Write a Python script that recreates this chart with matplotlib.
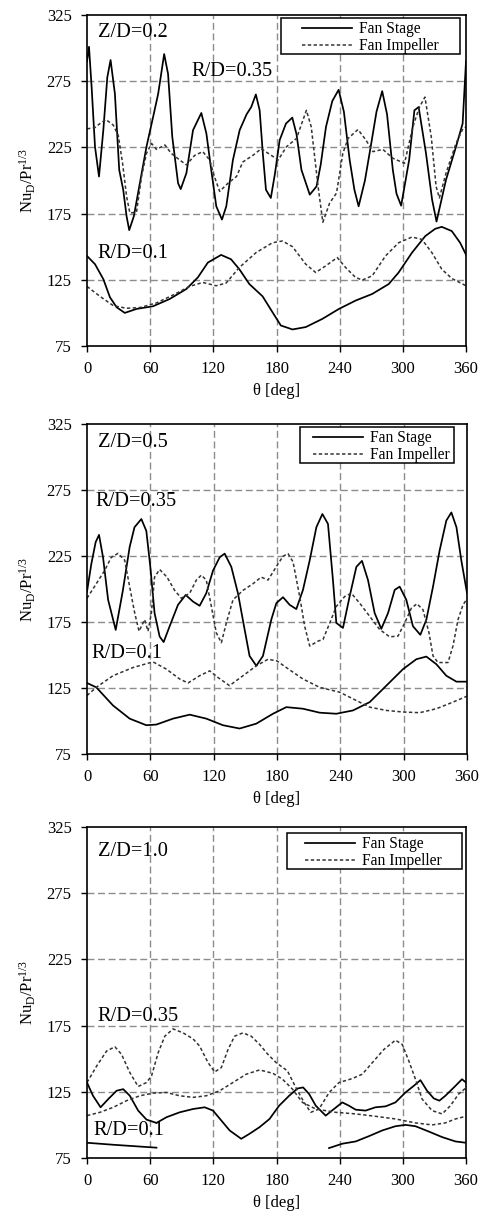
import numpy as np
import matplotlib
matplotlib.use("Agg")
import matplotlib.pyplot as plt
from matplotlib.patches import Rectangle

plt.rcParams['font.family'] = ['Liberation Serif', 'DejaVu Serif']
plt.rcParams['mathtext.fontset'] = 'custom'
plt.rcParams['mathtext.rm'] = 'Liberation Serif'
plt.rcParams['mathtext.it'] = 'Liberation Serif:italic'

# ---------------- data ----------------
x_ticks = [0, 60, 120, 180, 240, 300, 360]
y_ticks = [75, 125, 175, 225, 275, 325]
series_labels = ["Fan Stage", "Fan Impeller"]
panel_titles = ["Z/D=0.2", "Z/D=0.5", "Z/D=1.0"]
radius_labels = ["R/D=0.35", "R/D=0.1"]

# Panel 1: Z/D = 0.2
p1_stage35_ang = [0, 1.9, 4.4, 7.6, 11.4, 15.5, 19.3, 22.4, 26.5, 30.6, 34.4, 37.6, 40.1, 44.5, 50.2, 56.5,
                  62.8, 67.6, 73.3, 77, 81, 86.5, 89, 94.4, 100.7, 108.6, 113.4, 118, 122.8, 128.2, 132.3,
                  138.6, 145, 151.6, 156, 160.4, 164, 167, 170, 174.6, 178.5, 183, 189, 195, 199, 203.7,
                  211.6, 218, 222, 227, 233, 239, 244, 249.5, 254, 258, 264, 270, 275, 280.4, 285, 290.5,
                  294, 298.4, 306, 311, 315, 322, 327.8, 332, 341, 350.5, 356.8, 360]
p1_stage35_val = [290, 301, 270.5, 225.5, 203, 238, 278, 291, 265.5, 208, 193, 173, 162.5, 173, 198, 225.5,
                  248, 265.5, 295.5, 280.5, 233, 198, 193.5, 205.5, 238, 251, 235.5, 208, 180.5, 170.5, 180.5,
                  215.5, 238, 250, 255.5, 265, 253, 220.5, 193, 186.8, 205, 230.5, 243, 247.5, 235, 208,
                  189.3, 195.5, 212, 240.5, 260, 268.5, 252, 215.5, 193, 180.5, 200, 228, 252, 267.5, 250, 208,
                  190, 181, 215.5, 253, 255.5, 220.5, 185.5, 169, 200.5, 225.5, 243, 290]

p1_imp35_ang = [0, 7.6, 12.3, 18, 25, 29.7, 33.8, 37.6, 40.7, 47, 51.8, 56.5, 61.3, 66, 74, 80, 88, 94.4,
                102.3, 110, 116.5, 121, 126, 134, 142, 148, 157.6, 165.5, 175, 181.6, 189.5, 199, 208.4,
                213, 219.5, 224, 230.5, 237, 243, 248, 257.4, 265, 271.6, 281, 290.5, 301.6, 309.5, 315.8,
                321, 327, 331.6, 334.7, 341, 350.5, 357, 360]
p1_imp35_val = [239, 240, 243, 246, 241.8, 234, 213, 188, 175.5, 176, 203, 220.5, 228, 223.5, 226.8, 220.5,
                215.5, 211.8, 219, 221.8, 215.5, 203, 191.8, 198, 203, 214, 219, 224, 219, 215.5, 225.5,
                231.8, 253, 240.5, 195.5, 168.5, 183, 190.5, 220.5, 231.8, 238.5, 230.5, 221.8, 223.5,
                216.8, 213, 240.5, 255.5, 263, 233, 195.5, 186.8, 205.5, 228, 239, 240.5]

p1_stage10_ang = [0, 7.6, 15.5, 21.8, 28.1, 35.9, 47, 62.7, 78.5, 94.3, 105.3, 114.8, 127.4, 136.8, 144.7,
                  154.2, 166.8, 176.2, 184.1, 195.2, 207.8, 223.6, 239.3, 255.1, 270.9, 286.6, 296, 308.7,
                  321.3, 330.7, 337, 346.5, 354.4, 360]
p1_stage10_val = [143, 136.8, 125.5, 111.8, 104.3, 100, 103, 105, 110.5, 118, 126.8, 138, 143.8, 140.5, 133,
                  121.8, 112.5, 100.5, 90.5, 87.5, 89.3, 95.5, 103, 109.3, 114.3, 121.8, 130.5, 145.5, 158,
                  163.5, 165, 161.8, 153, 144]

p1_imp10_ang = [0, 12.3, 24.9, 37.5, 50.1, 65.9, 81.7, 97.4, 110, 122.6, 132.1, 144.7, 160.5, 176.2, 185.7,
                195.2, 207.8, 217.2, 226.7, 237.7, 245.6, 255.1, 261.4, 270.9, 283.5, 296, 308.7, 318.1,
                327.6, 337, 346.5, 360]
p1_imp10_val = [120, 112.5, 105.5, 103.5, 104, 107.5, 113.5, 120, 123, 120.5, 122.5, 134.3, 145.5, 153, 154.3,
                150, 136.8, 130.5, 135.5, 141.8, 134.3, 126.8, 124.8, 128, 143, 153, 157.3, 155.5, 145.5,
                133, 126, 120.5]

# Panel 2: Z/D = 0.5
p2_stage35_ang = [0, 4.1, 8.2, 11.4, 15.2, 20, 27.2, 34, 40.4, 45, 51.5, 56.2, 60, 64, 68.8, 72.6, 78.3,
                  86.2, 93.5, 100.4, 106.7, 113, 119.4, 125.7, 130.4, 136.7, 143, 149.4, 154, 160.4, 166.7,
                  174.6, 179.4, 185.7, 192, 198.3, 204.6, 211, 217.3, 223, 228.3, 233, 236.2, 242.5, 248.8,
                  255.2, 260.5, 266.2, 272.5, 278.8, 285.2, 291.5, 296.2, 302.5, 308.8, 315.8, 321.5, 327.8,
                  334.1, 340.4, 345.2, 350, 354.6, 360]
p2_stage35_val = [198, 219, 235.5, 241, 224, 191.8, 169, 199, 231.8, 246.8, 253, 244, 216.8, 181.8, 164,
                  159.8, 171.8, 188, 195.5, 190.5, 187.3, 196.8, 214, 224, 226.8, 216.8, 196.8, 169, 149.3,
                  141.8, 149.3, 176.8, 189.3, 193.8, 188, 184.8, 199.3, 221.8, 246.8, 256.8, 249.3, 206.8,
                  174.3, 170.5, 194.3, 216.8, 221.3, 206.8, 181.8, 169.8, 181.8, 199.3, 201.8, 191.8, 171.8,
                  165.3, 176.8, 201.8, 229.3, 251.8, 258, 246.8, 221.8, 197]

p2_imp35_ang = [0, 8.8, 16.7, 23, 29.4, 35.7, 40.4, 45.2, 49.3, 54.6, 57.8, 61, 64, 68.8, 75.8, 83, 89.4,
                97.3, 103.6, 108.3, 113, 117.8, 122.5, 127.3, 132, 138.3, 147.8, 157.3, 165, 171.5, 181,
                185.7, 190.4, 195.2, 201.5, 206.2, 211, 218.8, 223.6, 230, 236.2, 244.1, 250.4, 258.3, 267.8,
                277.3, 286.7, 294.6, 301, 307.3, 312.6, 318.3, 324, 327.8, 332.5, 342, 346.7, 351.5, 356.2, 360]
p2_imp35_val = [193, 204, 214, 224, 227, 221.8, 201.8, 181.8, 168, 176.8, 168, 181.8, 209, 214.8, 209, 199,
                193, 196.8, 206.8, 210.5, 206.8, 186.8, 166.8, 159.3, 174.3, 191.8, 199, 204, 209, 206.8,
                219, 224.8, 226.8, 220.5, 194.3, 171.8, 156.8, 160.5, 161.8, 174.3, 186.8, 194.3, 196.8,
                189.3, 179.3, 169.3, 163.8, 164.3, 174.3, 185.5, 188.8, 184.3, 166.8, 149.3, 144.3, 144.3,
                156.8, 176.8, 188, 192.5]

p2_stage10_ang = [0, 8.8, 24.6, 40.4, 56.2, 65.7, 81.5, 97.3, 113, 128.8, 144.6, 160.4, 176.2, 188.8, 204.6,
                  220.4, 236.2, 252, 267.8, 283.6, 299.4, 312, 321.5, 331, 340.4, 350, 360]
p2_stage10_val = [128.8, 125.5, 111.8, 101.8, 96.8, 97.3, 101.8, 104.8, 101.8, 96.8, 94.3, 98, 105.5, 110.5,
                  109.3, 106.3, 105.5, 108, 114.3, 126.8, 139.3, 146.8, 148.8, 143, 134.3, 129.8, 129.8]

p2_imp10_ang = [0, 8.8, 24.6, 43.6, 62.5, 75.2, 87.8, 95.7, 106.7, 116.2, 124, 135, 147.8, 160.4, 171.5,
                180, 188.8, 204.6, 220.4, 239.4, 255.2, 267.8, 283.6, 299.4, 315.2, 331, 346.7, 360]
p2_imp10_val = [119.3, 125.5, 134.3, 140.5, 144.8, 139.3, 131.8, 128.8, 134.3, 138, 133, 126.8, 134.3, 141.8,
                146.8, 145.5, 140.5, 131.8, 125.5, 121.8, 115.5, 110.5, 108, 106.8, 106.3, 109.3, 114.3, 118.8]

# Panel 3: Z/D = 1.0
p3_stage35_ang = [0, 5.7, 12.9, 20.2, 28.1, 34.4, 40.7, 48.6, 56.5, 66, 75.5, 88, 100.7, 111.8, 119.7, 127.6,
                  135.5, 146.5, 154.4, 163.9, 173.4, 182.5, 192, 199.9, 205.3, 211, 217.3, 226.7, 234.6,
                  242.5, 248.8, 255.2, 264.6, 274, 283.6, 293, 302.5, 310.4, 316.7, 323, 329.4, 334.7, 340.4,
                  350, 356.2, 360]
p3_stage35_val = [132, 122, 113.3, 119.5, 125.8, 127, 122, 110.8, 104, 101.5, 105.8, 109.5, 112, 113.3, 110.8,
                  103.3, 95.8, 89.5, 93.3, 98.3, 104.5, 114.5, 122, 127.5, 128.3, 123.3, 114.5, 107, 112, 117,
                  114.5, 111.5, 110.8, 113.3, 114, 117, 124.5, 129.5, 133.8, 125.8, 120, 118.3, 122, 129.5,
                  134.5, 132]

p3_imp35_ang = [0, 9.2, 18.6, 26.5, 32.8, 40.7, 48.6, 56.5, 61.3, 67.6, 73.9, 81.8, 91.3, 100.7, 107, 115,
                121.3, 127.6, 134, 140.2, 148.1, 156, 163.9, 171.8, 179.7, 190.4, 198.3, 206.2, 212.5, 220.4,
                230, 239.4, 252, 261.5, 271, 282, 293, 299.4, 305.7, 312, 318.3, 327.8, 337.3, 345.2, 353, 360]
p3_imp35_val = [132, 144.5, 155.8, 159, 153.3, 139.5, 129, 132, 137, 154.5, 167, 172.5, 169.5, 165, 159.5,
                147, 140, 143.3, 157, 167, 169.5, 167, 160.8, 153.3, 147, 140.8, 128.3, 117, 109.5, 112,
                124.5, 132, 135, 138.3, 147, 157, 164, 160.8, 148.3, 134.5, 119.5, 110.8, 108.3, 114.5,
                123.3, 128]

p3_stage10_ang = [0, 25, 66, 150, 229.9, 242.5, 255.2, 267.8, 280.4, 293, 302.5, 312, 324.6, 337.3, 350, 360]
p3_stage10_val = [86.5, 85, 82.8, np.nan, 82.5, 85.8, 87.5, 91.5, 95.8, 99, 100, 99, 95, 90.8, 87.5, 86.5]

p3_imp10_ang = [0, 12.3, 25, 37.6, 50.2, 62.8, 75.5, 88, 100.7, 113.4, 126, 138.6, 151.3, 163.9, 176.5,
                185.7, 195.2, 204.6, 217.3, 236.2, 255.2, 274, 293, 312, 327.8, 340.4, 350, 360]
p3_imp10_val = [107, 109.5, 113.3, 118.3, 122, 124, 124.5, 122, 120.8, 122, 125.8, 132, 138.3, 141.5, 139,
                134.5, 127, 117, 112, 109.5, 108.3, 106.5, 104.5, 101.5, 100, 101.5, 104.5, 106.5]

panels = [
    dict(stage35=(p1_stage35_ang, p1_stage35_val), imp35=(p1_imp35_ang, p1_imp35_val),
         stage10=(p1_stage10_ang, p1_stage10_val), imp10=(p1_imp10_ang, p1_imp10_val)),
    dict(stage35=(p2_stage35_ang, p2_stage35_val), imp35=(p2_imp35_ang, p2_imp35_val),
         stage10=(p2_stage10_ang, p2_stage10_val), imp10=(p2_imp10_ang, p2_imp10_val)),
    dict(stage35=(p3_stage35_ang, p3_stage35_val), imp35=(p3_imp35_ang, p3_imp35_val),
         stage10=(p3_stage10_ang, p3_stage10_val), imp10=(p3_imp10_ang, p3_imp10_val)),
]

# ---------------- layout / style ----------------
W, H = 486, 1211
fig = plt.figure(figsize=(W / 100, H / 100), dpi=100)

axes_px = [(87, 15, 466, 346), (87, 424, 467, 754), (87, 827, 466, 1158)]
# label positions (deg, value)
title_pos = [(10, 312), (10.4, 311), (10.8, 306.6)]
r35_pos = [(99, 282), (8.2, 266), (9.8, 182)]
r10_pos = [(9.8, 145), (4.1, 151), (6.6, 95.8)]
# legend frame in axes fraction: x0, x1, y0, y1 ; handle start x
leg_box = [(0.512, 0.984, 0.882, 0.991, 0.567),
           (0.561, 0.966, 0.882, 0.991, 0.595),
           (0.528, 0.989, 0.873, 0.982, 0.575)]

grid_kw = dict(color='#8c8c8c', lw=1.0, linestyle=(0, (5, 2.6)))
solid_kw = dict(color='black', lw=1.25)
dot_kw = dict(color='#333333', lw=1.1, linestyle=(0, (2.2, 1.6)))

for i, (l, t, r, b) in enumerate(axes_px):
    ax = fig.add_axes([l / W, 1 - b / H, (r - l) / W, (b - t) / H])
    d = panels[i]
    ax.set_xlim(0, 360)
    ax.set_ylim(75, 325)
    ax.set_xticks(x_ticks)
    ax.set_yticks(y_ticks)
    for xv in x_ticks[1:-1]:
        ax.axvline(xv, zorder=0, **grid_kw)
    for yv in y_ticks[1:-1]:
        ax.axhline(yv, zorder=0, **grid_kw)

    ls, = ax.plot(*d['stage35'], **solid_kw)
    li, = ax.plot(*d['imp35'], **dot_kw)
    ax.plot(*d['stage10'], **solid_kw)
    ax.plot(*d['imp10'], **dot_kw)

    ax.tick_params(direction='out', length=4, width=1, labelsize=12, pad=7, top=False, right=False)
    for s in ax.spines.values():
        s.set_linewidth(1.2)
    ax.set_xlabel("θ [deg]", fontsize=12, labelpad=4)
    ax.set_ylabel(r"$\mathrm{Nu_D/Pr^{1/3}}$", fontsize=12, labelpad=6)

    ax.text(*title_pos[i], panel_titles[i], fontsize=14.7, ha='left', va='center')
    ax.text(*r35_pos[i], radius_labels[0], fontsize=14.7, ha='left', va='center')
    ax.text(*r10_pos[i], radius_labels[1], fontsize=14.7, ha='left', va='center')

    x0, x1, y0, y1, hx = leg_box[i]
    ax.add_patch(Rectangle((x0, y0), x1 - x0, y1 - y0, transform=ax.transAxes, fill=True,
                           facecolor='white', edgecolor='black', lw=1.1, zorder=4))
    leg = ax.legend([ls, li], series_labels, loc='upper left', bbox_to_anchor=(hx, y1 - 0.01),
                    frameon=False, borderpad=0, borderaxespad=0, handlelength=3.2,
                    handletextpad=0.45, labelspacing=0.05, fontsize=11.2)
    leg.set_zorder(5)

fig.savefig("out.png", dpi=100)
